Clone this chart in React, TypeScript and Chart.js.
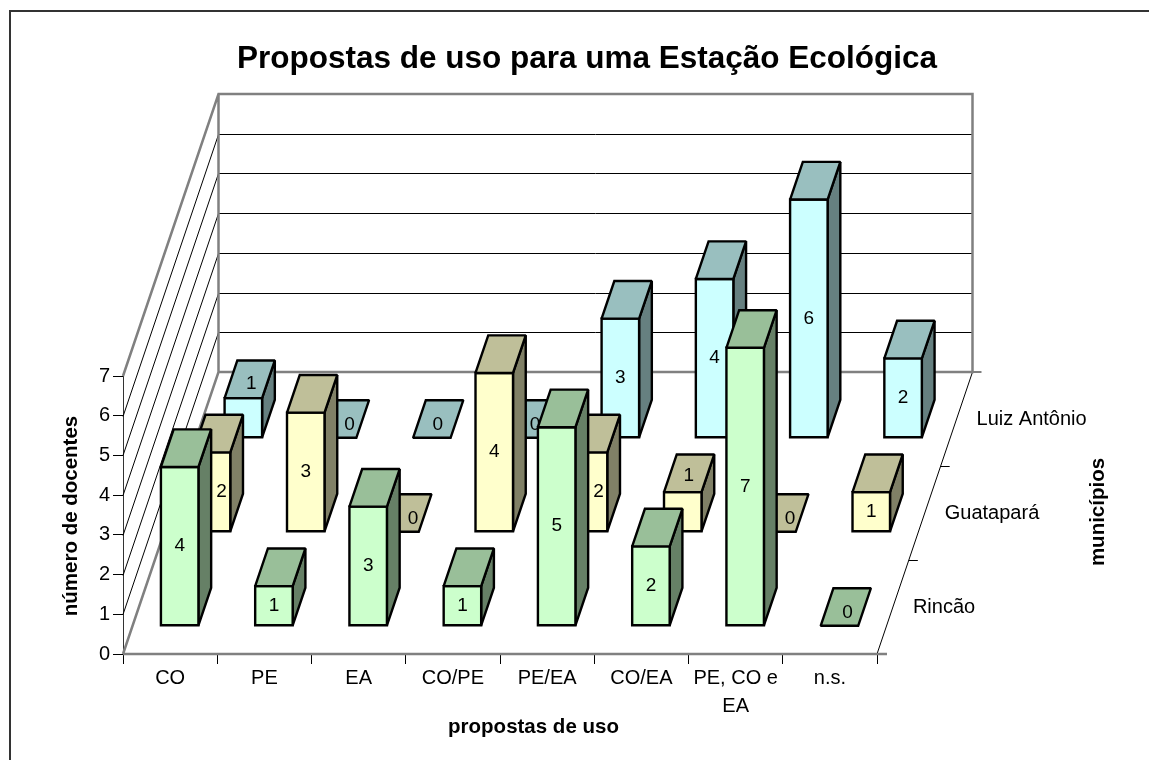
import React, { useEffect, useRef } from "react";
import { Chart, registerables } from "chart.js";

Chart.register(...registerables);

const chartTitle = "Propostas de uso para uma Estação Ecológica";
const xAxisTitle = "propostas de uso";
const yAxisTitle = "número de docentes";
const depthAxisTitle = "municípios";

const categories: (string | string[])[] = ["CO", "PE", "EA", "CO/PE", "PE/EA", "CO/EA", ["PE, CO e", "EA"], "n.s."];
const municipios = ["Rincão", "Guatapará", "Luiz Antônio"];

const rincao = [4, 1, 3, 1, 5, 2, 7, 0];
const guatapara = [2, 3, 0, 4, 2, 1, 0, 1];
const luizAntonio = [1, 0, 0, 0, 3, 4, 6, 2];

const FONT = "'Liberation Sans', Arial, sans-serif";
const TICK_SIZE = 20;
const LABEL_SIZE = 19;
const BOLD_SIZE = 20.5;

// back-of-floor vector of the pseudo-3D projection and the bar's own depth share
const DEPTH_X = 95.5;
const DEPTH_Y = -282;
const BAR_DEPTH_SHARE = 0.4 / 3;

// hand-moved data labels of the original chart: "series-category" -> [dx, dy]
const labelShift: Record<string, [number, number]> = {
  "0-7": [2, 3],
  "1-0": [10, 0],
  "1-2": [7, -1],
  "1-4": [10, 0],
  "1-5": [6, -36],
  "1-6": [7, -1],
  "2-0": [8, -34],
  "2-1": [6, -3],
  "2-3": [3, -9],
};

const shade = (rgb: number[], f: number) => `rgb(${rgb.map((c) => Math.round(c * f)).join(",")})`;

const projection3D = {
  id: "projection3D",
  beforeDatasetsDraw(chart: any) {
    const { ctx, chartArea: a, scales } = chart;
    const y = scales.y;
    ctx.save();
    // thin grid on back wall and left wall
    ctx.strokeStyle = "#000";
    ctx.lineWidth = 1;
    for (let v = 1; v <= 6; v++) {
      const py = Math.round(y.getPixelForValue(v)) + 0.5;
      ctx.beginPath();
      ctx.moveTo(a.left + DEPTH_X, py + DEPTH_Y);
      ctx.lineTo(a.right + DEPTH_X, py + DEPTH_Y);
      ctx.stroke();
      ctx.beginPath();
      ctx.moveTo(a.left, py);
      ctx.lineTo(a.left + DEPTH_X, py + DEPTH_Y);
      ctx.stroke();
    }
    // floor edge on the right with its depth ticks
    ctx.beginPath();
    ctx.moveTo(a.right, a.bottom);
    ctx.lineTo(a.right + DEPTH_X, a.bottom + DEPTH_Y);
    ctx.lineTo(a.right + DEPTH_X + 9, a.bottom + DEPTH_Y);
    for (let i = 1; i <= 2; i++) {
      const tx = a.right + (DEPTH_X * i) / 3;
      const ty = Math.round(a.bottom + (DEPTH_Y * i) / 3) + 0.5;
      ctx.moveTo(tx, ty);
      ctx.lineTo(tx + 9, ty);
    }
    ctx.stroke();
    // gray frame of the walls
    ctx.strokeStyle = "#808080";
    ctx.lineWidth = 2.5;
    const top = a.top;
    const bottom = a.bottom;
    ctx.beginPath();
    ctx.moveTo(a.left, top);
    ctx.lineTo(a.left + DEPTH_X, top + DEPTH_Y);
    ctx.lineTo(a.right + DEPTH_X, top + DEPTH_Y);
    ctx.lineTo(a.right + DEPTH_X, bottom + DEPTH_Y);
    ctx.lineTo(a.left + DEPTH_X, bottom + DEPTH_Y);
    ctx.lineTo(a.left, bottom);
    ctx.moveTo(a.left + DEPTH_X, top + DEPTH_Y);
    ctx.lineTo(a.left + DEPTH_X, bottom + DEPTH_Y);
    ctx.moveTo(a.left, bottom);
    ctx.lineTo(a.right + 10, bottom);
    ctx.stroke();
    ctx.restore();
  },
  beforeDatasetDraw() {
    return false;
  },
  afterDatasetsDraw(chart: any) {
    const { ctx, chartArea: a, scales } = chart;
    const z = scales.z;
    const h = a.bottom - a.top;
    chart.data.datasets
      .map((d: any, i: number) => ({ d, i }))
      .reverse()
      .forEach(({ d, i }: any) => {
        const frac = (a.bottom - z.getPixelForValue(i)) / h - BAR_DEPTH_SHARE / 2;
        const ox = DEPTH_X * frac;
        const oy = DEPTH_Y * frac;
        const dx = DEPTH_X * BAR_DEPTH_SHARE;
        const dy = DEPTH_Y * BAR_DEPTH_SHARE;
        const meta = chart.getDatasetMeta(i);
        const rgb = d.rgb;
        ctx.save();
        ctx.lineWidth = 2.4;
        ctx.strokeStyle = "#000";
        ctx.lineJoin = "miter";
        ctx.miterLimit = 1.6;
        meta.data.forEach((bar: any, k: number) => {
          const l = bar.x - bar.width / 2 + ox;
          const r = bar.x + bar.width / 2 + ox;
          const t = bar.y + oy;
          const b = bar.base + oy;
          const poly = (pts: number[][], fill: string) => {
            ctx.beginPath();
            pts.forEach((p, n) => (n ? ctx.lineTo(p[0], p[1]) : ctx.moveTo(p[0], p[1])));
            ctx.closePath();
            ctx.fillStyle = fill;
            ctx.fill();
            ctx.stroke();
          };
          if (b - t > 0.5) {
            poly([[r, t], [r + dx, t + dy], [r + dx, b + dy], [r, b]], shade(rgb, 0.5));
            poly([[l, t], [r, t], [r, b], [l, b]], shade(rgb, 1));
          }
          poly([[l, t], [l + dx, t + dy], [r + dx, t + dy], [r, t]], shade(rgb, 0.75));
          const v = d.data[k];
          const s = labelShift[`${i}-${k}`] || [0, 0];
          const lx = (l + r) / 2 + (v === 0 ? 6 : 0) + s[0];
          const ly = v === 0 ? b - 13 : (t + b) / 2 + s[1];
          ctx.fillStyle = "#000";
          ctx.font = `${LABEL_SIZE}px ${FONT}`;
          ctx.textAlign = "center";
          ctx.textBaseline = "middle";
          ctx.fillText(String(v), lx, ly);
        });
        ctx.restore();
      });
  },
  afterDraw(chart: any) {
    const { ctx, chartArea: a, scales, width, height } = chart;
    const z = scales.z;
    const h = a.bottom - a.top;
    ctx.save();
    // outer frame: its right and bottom sides fall outside the picture
    ctx.strokeStyle = "#333";
    ctx.lineWidth = 2;
    ctx.strokeRect(10, 11, width + 20, height + 20);
    ctx.fillStyle = "#000";
    ctx.textBaseline = "middle";
    // depth axis labels along the floor's right edge
    ctx.textAlign = "left";
    ctx.font = `${TICK_SIZE}px ${FONT}`;
    z.getLabels().forEach((label: string, i: number) => {
      const frac = (a.bottom - z.getPixelForValue(i)) / h;
      ctx.fillText(label, a.right + DEPTH_X * frac + 20, a.bottom + DEPTH_Y * frac);
    });
    // axis titles
    ctx.textAlign = "center";
    ctx.font = `bold ${BOLD_SIZE}px ${FONT}`;
    ctx.fillText(xAxisTitle, 533.5, 727);
    const vertical = (text: string, x: number, y: number) => {
      ctx.save();
      ctx.translate(x, y);
      ctx.rotate(-Math.PI / 2);
      ctx.fillText(text, 0, 0);
      ctx.restore();
    };
    vertical(yAxisTitle, 71, 516);
    vertical(depthAxisTitle, 1098, 512);
    ctx.restore();
  },
};

export default function App() {
  const ref = useRef<HTMLCanvasElement>(null);
  useEffect(() => {
    if (!ref.current) return;
    const mk = (label: string, data: number[], rgb: number[]) => ({
      label,
      data,
      rgb,
      yAxisID: "y",
      xAxisID: "x",
      grouped: false,
      barThickness: 37.5,
      backgroundColor: shade(rgb, 1),
      borderColor: "#000",
      borderWidth: 2,
    });
    const chart = new Chart(ref.current, {
      type: "bar",
      data: {
        labels: categories as any,
        datasets: [
          mk(municipios[0], rincao, [204, 255, 204]),
          mk(municipios[1], guatapara, [255, 255, 204]),
          mk(municipios[2], luizAntonio, [204, 255, 255]),
        ] as any,
      },
      options: {
        animation: false,
        responsive: false,
        layout: { padding: { left: 25, right: 0, top: 0, bottom: 0 } },
        plugins: {
          legend: { display: false },
          tooltip: { enabled: false },
          title: {
            display: true,
            text: chartTitle,
            color: "#000",
            font: { family: FONT, size: 31.5, weight: "bold", lineHeight: 1.2 },
            padding: { top: 40.5, bottom: 297.7 },
          },
        },
        scales: {
          x: {
            type: "category",
            offset: true,
            border: { color: "#333", width: 1 },
            grid: { offset: true, drawOnChartArea: false, color: "#000", tickLength: 10, tickColor: "#000" },
            ticks: {
              color: "#000",
              maxRotation: 0,
              autoSkip: false,
              padding: 0,
              font: { family: FONT, size: TICK_SIZE, lineHeight: 1.4 },
            },
            afterFit: (s: any) => {
              s.height = 106;
            },
          },
          y: {
            min: 0,
            max: 7,
            border: { color: "#333", width: 1 },
            grid: { drawOnChartArea: false, color: "#000", tickLength: 10, tickColor: "#000" },
            ticks: {
              stepSize: 1,
              color: "#000",
              padding: 3,
              font: { family: FONT, size: TICK_SIZE },
            },
            afterFit: (s: any) => {
              s.width = 98;
            },
          },
          z: {
            type: "category",
            position: "right",
            reverse: true,
            offset: true,
            labels: municipios,
            border: { display: false },
            grid: { display: false, drawTicks: false },
            ticks: { display: false },
            afterFit: (s: any) => {
              s.width = 272;
            },
          },
        },
      } as any,
      plugins: [projection3D as any],
    });
    return () => chart.destroy();
  }, []);
  return (
    <canvas
      ref={ref}
      width={1149}
      height={760}
      style={{ position: "fixed", left: 0, top: 0, display: "block", background: "#fff" }}
    />
  );
}
